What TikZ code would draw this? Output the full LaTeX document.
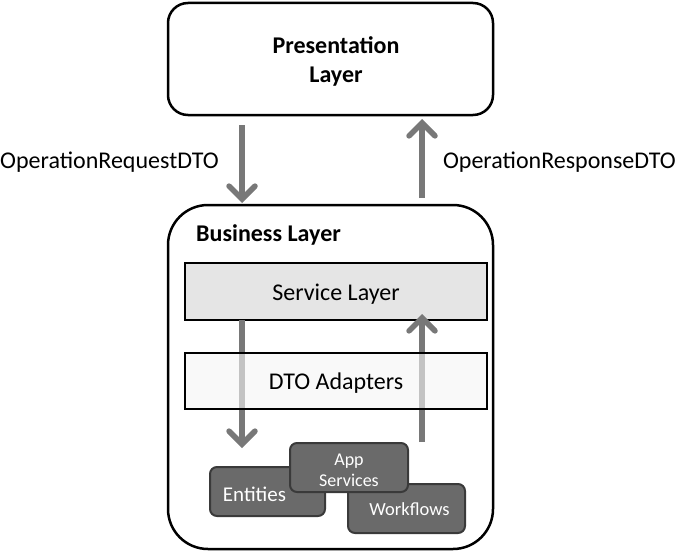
\documentclass[tikz,border=0pt]{standalone}
\usepackage{fontspec}
\setmainfont{Carlito}
\usetikzlibrary{arrows.meta}
\definecolor{arrowgrey}{HTML}{787878}
\definecolor{compfill}{HTML}{6A6A6A}
\definecolor{compedge}{HTML}{3A3A3A}
\tikzset{
  layerbox/.style={draw=black, line width=2.5pt, rounded corners=20pt},
  bandbox/.style={draw=black, line width=2.5pt},
  flow/.style={draw=arrowgrey, line width=5.5pt, -{Straight Barb[length=13pt,width=26pt,line cap=round]}},
  comp/.style={draw=compedge, fill=compfill, line width=2pt, rounded corners=7pt},
  lbl/.style={font=\fontsize{24}{28}\selectfont, inner sep=0pt},
  clbl/.style={inner sep=0pt, text=white, align=center}
}
\begin{document}
\begin{tikzpicture}[x=1pt,y=-1pt]
\useasboundingbox (0,0) rectangle (676,551);
% Presentation layer
\draw[layerbox] (168,3) rectangle (493,115);
\node[inner sep=0pt, font=\bfseries\fontsize{24}{29}\selectfont, align=center] (pres) at (336,61.5) {Presentation\\Layer};
% Business layer
\draw[layerbox, rounded corners=40pt] (168,205) rectangle (493,549);
\node[anchor=west, inner sep=0pt, font=\bfseries\fontsize{24}{28}\selectfont] (blt) at (196,234.5) {Business Layer};
% outer flows
\coordinate (reqtop) at (242,125);
\coordinate (reqbot) at (242,203);
\coordinate (bizR) at (422,198);
\coordinate (resptop) at (422,119);
\draw[flow] (reqtop) -- (reqbot);
\draw[flow] (bizR) -- (resptop);
\node[lbl, anchor=west] (req) at (0,162) {OperationRequestDTO};
\node[lbl, anchor=east] (resp) at (676,162) {OperationResponseDTO};
% service layer
\draw[bandbox, fill=black!10] (185,263) rectangle (487,320);
\node[lbl] (svc) at (336,294.5) {Service Layer};
% inner flows
\coordinate (svcL) at (242,320);
\coordinate (svcR) at (422,314);
\coordinate (entTop) at (242,448);
\coordinate (wfTop) at (422,442);
\draw[flow] (svcL) -- (entTop);
\draw[flow] (wfTop) -- (svcR);
% DTO adapters
\draw[bandbox, fill=black!4, fill opacity=0.6] (185,353) rectangle (487,409);
\node[lbl] (dto) at (336,383.5) {DTO Adapters};
% components
\draw[comp] (210,467) rectangle (325,516);
\node[clbl, font=\fontsize{21}{24}\selectfont] (ent) at (254.5,494) {Entities};
\draw[comp] (348,484) rectangle (465,533);
\node[clbl, font=\fontsize{18.5}{22}\selectfont] (wf) at (409.5,509.5) {Workflows};
\draw[comp] (290,443) rectangle (408,492);
\node[clbl, font=\fontsize{18}{21}\selectfont] (app) at (349,470.5) {App\\Services};
\end{tikzpicture}
\end{document}
